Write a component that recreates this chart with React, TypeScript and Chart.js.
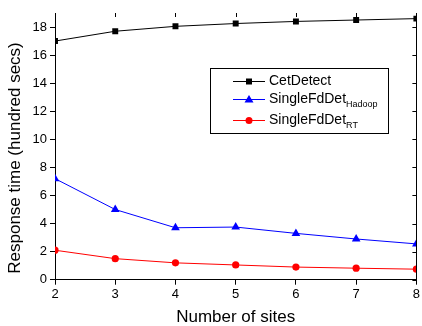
import React, { useEffect, useRef } from "react";
import { Chart, registerables } from "chart.js";

Chart.register(...registerables);

const sites = [2, 3, 4, 5, 6, 7, 8];
const cetDetect = [17.0, 17.7, 18.05, 18.25, 18.4, 18.5, 18.6];
const singleHadoop = [7.2, 5.0, 3.7, 3.75, 3.3, 2.9, 2.55];
const singleRT = [2.1, 1.5, 1.2, 1.05, 0.9, 0.82, 0.75];

const FONT = "'Liberation Sans', Arial, sans-serif";
const Y_TITLE = "Response time (hundred secs)";
const X_TITLE = "Number of sites";

const framePlugin = {
  id: "frame",
  afterDraw(chart: any) {
    const { ctx, chartArea } = chart;
    const { right, top, bottom } = chartArea;
    const xs = chart.scales.x;
    const ys = chart.scales.y;
    ctx.save();
    ctx.strokeStyle = "#000";
    ctx.lineWidth = 1;
    // right axis line
    ctx.beginPath();
    ctx.moveTo(Math.round(right) + 0.5, top);
    ctx.lineTo(Math.round(right) + 0.5, bottom);
    ctx.stroke();
    // right ticks (inward)
    ys.ticks.forEach((t: any) => {
      const y = Math.round(ys.getPixelForValue(t.value)) + 0.5;
      ctx.beginPath();
      ctx.moveTo(right, y);
      ctx.lineTo(right - 4, y);
      ctx.stroke();
    });
    // top ticks (inward)
    xs.ticks.forEach((t: any) => {
      const x = Math.round(xs.getPixelForValue(t.value)) + 0.5;
      ctx.beginPath();
      ctx.moveTo(x, top);
      ctx.lineTo(x, top + 4);
      ctx.stroke();
    });

    // y title
    ctx.save();
    ctx.translate(15, 158);
    ctx.rotate(-Math.PI / 2);
    ctx.fillStyle = "#000";
    ctx.font = `17px ${FONT}`;
    ctx.textAlign = "center";
    ctx.textBaseline = "middle";
    ctx.fillText(Y_TITLE, 0, 0);
    ctx.restore();

    // legend
    const bx = 210.5, by = 68.5, bw = 178, bh = 65;
    ctx.fillStyle = "#fff";
    ctx.fillRect(bx, by, bw, bh);
    ctx.strokeRect(bx, by, bw, bh);
    const items = [
      { color: "#000", marker: "square", main: "CetDetect", sub: "", y: 81 },
      { color: "#0000ff", marker: "triangle", main: "SingleFdDet", sub: "Hadoop", y: 99 },
      { color: "#ff0000", marker: "circle", main: "SingleFdDet", sub: "RT", y: 120 },
    ];
    items.forEach((it) => {
      ctx.strokeStyle = it.color;
      ctx.fillStyle = it.color;
      ctx.beginPath();
      ctx.moveTo(233, it.y + 0.5);
      ctx.lineTo(265, it.y + 0.5);
      ctx.stroke();
      const cx = 249, cy = it.y + 0.5;
      ctx.beginPath();
      if (it.marker === "square") {
        ctx.rect(cx - 3, cy - 3, 6, 6);
      } else if (it.marker === "triangle") {
        ctx.moveTo(cx, cy - 4.5);
        ctx.lineTo(cx + 4.5, cy + 3);
        ctx.lineTo(cx - 4.5, cy + 3);
        ctx.closePath();
      } else {
        ctx.arc(cx, cy, 3.5, 0, Math.PI * 2);
      }
      ctx.fill();
      ctx.fillStyle = "#000";
      ctx.textBaseline = "middle";
      ctx.textAlign = "left";
      ctx.font = `14px ${FONT}`;
      ctx.fillText(it.main, 269, it.y);
      if (it.sub) {
        const w = ctx.measureText(it.main).width;
        ctx.font = `9px ${FONT}`;
        ctx.fillText(it.sub, 269 + w, it.y + 6);
      }
    });
    ctx.restore();
  },
};

export default function App() {
  const ref = useRef<HTMLCanvasElement | null>(null);
  useEffect(() => {
    if (!ref.current) return;
    const mk = (arr: number[]) => sites.map((s, i) => ({ x: s, y: arr[i] }));
    const chart = new Chart(ref.current, {
      type: "line",
      data: {
        datasets: [
          {
            label: "CetDetect",
            data: mk(cetDetect),
            borderColor: "#000",
            backgroundColor: "#000",
            borderWidth: 1,
            pointStyle: "rect",
            pointRadius: 4.2,
            pointBorderWidth: 0,
          },
          {
            label: "SingleFdDetHadoop",
            data: mk(singleHadoop),
            borderColor: "#0000ff",
            backgroundColor: "#0000ff",
            borderWidth: 1,
            pointStyle: "triangle",
            pointRadius: 5,
            pointBorderWidth: 0,
          },
          {
            label: "SingleFdDetRT",
            data: mk(singleRT),
            borderColor: "#ff0000",
            backgroundColor: "#ff0000",
            borderWidth: 1,
            pointStyle: "circle",
            pointRadius: 3.6,
            pointBorderWidth: 0,
          },
        ],
      },
      options: {
        animation: false,
        responsive: false,
        maintainAspectRatio: false,
        layout: { padding: { top: 13, right: 4, left: 0, bottom: 0 } },
        plugins: { legend: { display: false }, tooltip: { enabled: false } },
        scales: {
          x: {
            type: "linear",
            min: 2,
            max: 8,
            afterFit: (s: any) => {
              s.height = 46.3;
            },
            ticks: { stepSize: 1, color: "#000", font: { family: FONT, size: 13 }, padding: 2, maxRotation: 0, autoSkip: false },
            grid: { display: true, drawOnChartArea: false, drawTicks: true, tickLength: 5, color: "#000" },
            border: { display: true, color: "#000", width: 1 },
            title: {
              display: true,
              text: X_TITLE,
              color: "#000",
              font: { family: FONT, size: 17, lineHeight: 1 },
              padding: 0,
            },
          },
          y: {
            type: "linear",
            min: 0,
            max: 19,
            afterBuildTicks: (s: any) => {
              s.ticks = s.ticks.filter((t: any) => t.value % 2 === 0);
            },
            afterFit: (s: any) => {
              s.width = 55;
            },
            ticks: { stepSize: 2, includeBounds: false, autoSkip: false, color: "#000", font: { family: FONT, size: 13 }, padding: 3 },
            grid: { display: true, drawOnChartArea: false, drawTicks: true, tickLength: 5, color: "#000" },
            border: { display: true, color: "#000", width: 1 },
            title: { display: false },
          },
        },
      },
      plugins: [framePlugin],
    });
    return () => chart.destroy();
  }, []);
  return (
    <div style={{ position: "fixed", left: 0, top: 0, width: 422, height: 326, background: "#fff" }}>
      <canvas ref={ref} width={422} height={326} style={{ width: 422, height: 326, display: "block" }} />
    </div>
  );
}
